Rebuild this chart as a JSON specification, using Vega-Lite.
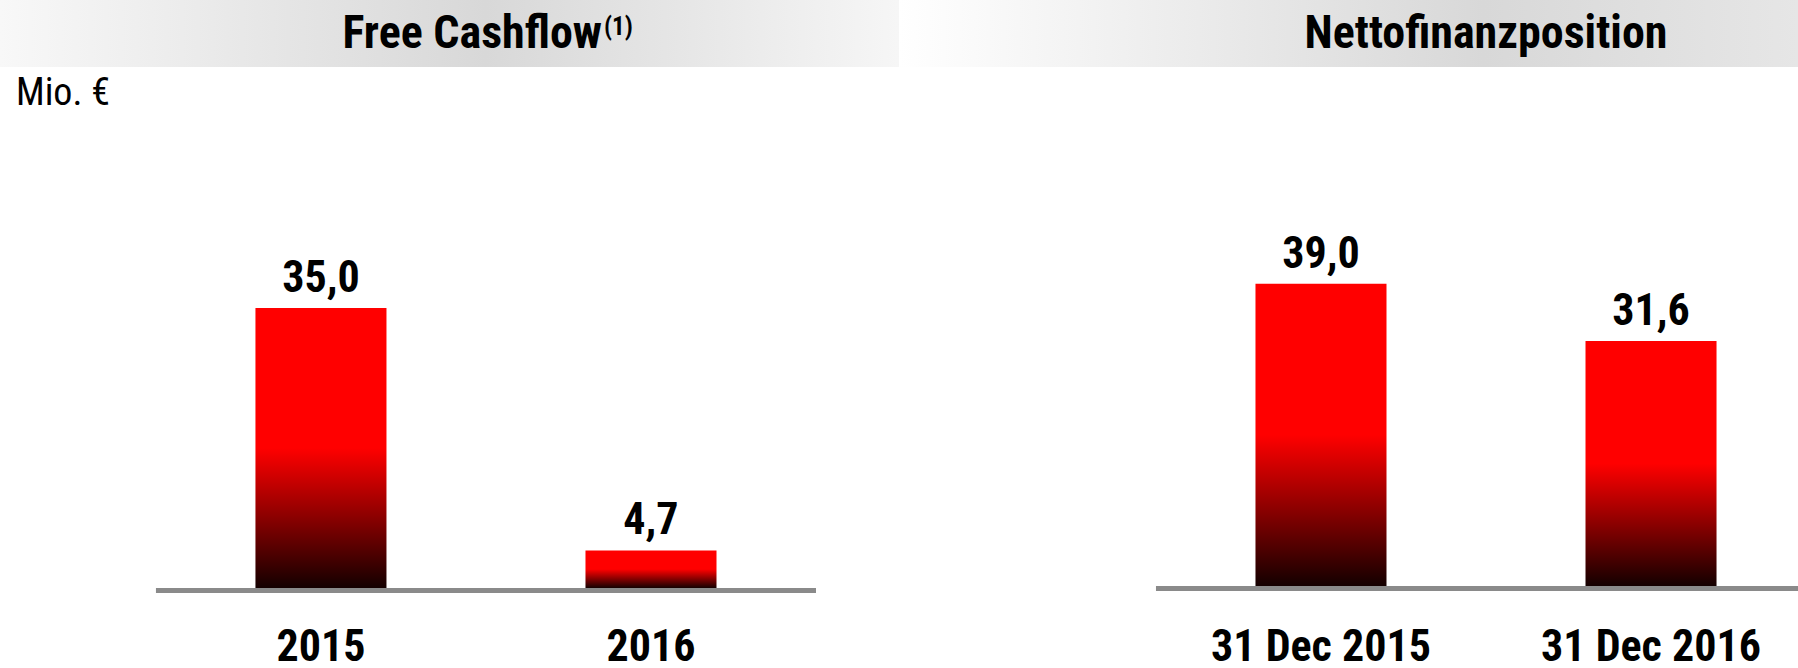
{
  "$schema": "https://vega.github.io/schema/vega-lite/v6.json",
  "padding": 0,
  "spacing": 0,
  "background": "white",
  "config": {
    "view": {"stroke": null},
    "locale": {"number": {"decimal": ",", "thousands": ".", "grouping": [3], "currency": ["", " €"]}},
    "text": {"font": "Roboto Condensed, Noto Sans Condensed, Lato, sans-serif", "color": "#000000"}
  },
  "datasets": {
    "rows": [
      {"panel": "Free Cashflow", "period": "2015", "value": 35.0},
      {"panel": "Free Cashflow", "period": "2016", "value": 4.7},
      {"panel": "Nettofinanzposition", "period": "31 Dec 2015", "value": 39.0},
      {"panel": "Nettofinanzposition", "period": "31 Dec 2016", "value": 31.6}
    ]
  },
  "hconcat": [
    {
      "width": 899,
      "height": 668,
      "layer": [
        {
          "data": {"values": [{"title": "Free Cashflow", "note": "(1)"}]},
          "mark": {"type": "rect", "color": {"gradient": "linear", "x1": 0, "y1": 0, "x2": 1, "y2": 0, "stops": [{"offset": 0, "color": "#f8f8f8"}, {"offset": 0.54, "color": "#d8d8d8"}, {"offset": 1, "color": "#f6f6f6"}]}},
          "encoding": {
            "y": {"datum": 73.5, "type": "quantitative", "scale": {"domain": [-10, 73.5], "nice": false, "zero": false}, "axis": null},
            "y2": {"datum": 65.125}
          }
        },
        {
          "data": {"values": [{"title": "Free Cashflow", "note": "(1)"}]},
          "mark": {"type": "text", "align": "right", "baseline": "alphabetic", "dx": 116, "fontSize": 46, "fontWeight": "bold"},
          "encoding": {
            "x": {"datum": "Free Cashflow", "type": "nominal", "scale": {"type": "band", "domain": ["l0", "2015", "Free Cashflow", "2016", "l4"], "paddingInner": 0.206, "paddingOuter": 0.327, "align": 0.838}, "axis": null},
            "y": {"datum": 67.5, "type": "quantitative", "scale": {"domain": [-10, 73.5], "nice": false, "zero": false}, "axis": null},
            "text": {"field": "title"}
          }
        },
        {
          "data": {"values": [{"title": "Free Cashflow", "note": "(1)"}]},
          "mark": {"type": "text", "align": "left", "baseline": "alphabetic", "dx": 118, "dy": -13, "fontSize": 25, "fontWeight": "bold"},
          "encoding": {
            "x": {"datum": "Free Cashflow", "type": "nominal", "scale": {"type": "band", "domain": ["l0", "2015", "Free Cashflow", "2016", "l4"], "paddingInner": 0.206, "paddingOuter": 0.327, "align": 0.838}, "axis": null},
            "y": {"datum": 67.5, "type": "quantitative", "scale": {"domain": [-10, 73.5], "nice": false, "zero": false}, "axis": null},
            "text": {"field": "note"}
          }
        },
        {
          "data": {"values": [{"unit": "Mio. €"}]},
          "mark": {"type": "text", "align": "left", "baseline": "alphabetic", "dx": -140, "fontSize": 38, "fontWeight": "normal"},
          "encoding": {
            "x": {"datum": "l0", "type": "nominal", "scale": {"type": "band", "domain": ["l0", "2015", "Free Cashflow", "2016", "l4"], "paddingInner": 0.206, "paddingOuter": 0.327, "align": 0.838}, "axis": null},
            "y": {"datum": 60.375, "type": "quantitative", "scale": {"domain": [-10, 73.5], "nice": false, "zero": false}, "axis": null},
            "text": {"field": "unit"}
          }
        },
        {
          "data": {"name": "rows"},
          "transform": [{"filter": "datum.panel === 'Free Cashflow'"}],
          "mark": {"type": "bar", "color": {"gradient": "linear", "x1": 0, "y1": 0, "x2": 0, "y2": 1, "stops": [{"offset": 0, "color": "#ff0000"}, {"offset": 0.5, "color": "#ff0000"}, {"offset": 1, "color": "#140000"}]}},
          "encoding": {
            "x": {"field": "period", "type": "nominal", "scale": {"type": "band", "domain": ["l0", "2015", "Free Cashflow", "2016", "l4"], "paddingInner": 0.206, "paddingOuter": 0.327, "align": 0.838}, "axis": null},
            "y": {"field": "value", "type": "quantitative", "scale": {"domain": [-10, 73.5], "nice": false, "zero": false}, "axis": null}
          }
        },
        {
          "data": {"values": [{"title": "Free Cashflow"}]},
          "mark": {"type": "rule", "color": "#8a8a8a", "strokeWidth": 5, "yOffset": 2.5},
          "encoding": {
            "x": {"datum": "l0", "type": "nominal", "scale": {"type": "band", "domain": ["l0", "2015", "Free Cashflow", "2016", "l4"], "paddingInner": 0.206, "paddingOuter": 0.327, "align": 0.838}, "axis": null},
            "x2": {"datum": "l4"},
            "y": {"datum": 0, "type": "quantitative", "scale": {"domain": [-10, 73.5], "nice": false, "zero": false}, "axis": null}
          }
        },
        {
          "data": {"name": "rows"},
          "transform": [{"filter": "datum.panel === 'Free Cashflow'"}],
          "mark": {"type": "text", "baseline": "alphabetic", "dy": -16, "fontSize": 44, "fontWeight": "bold"},
          "encoding": {
            "x": {"field": "period", "type": "nominal", "scale": {"type": "band", "domain": ["l0", "2015", "Free Cashflow", "2016", "l4"], "paddingInner": 0.206, "paddingOuter": 0.327, "align": 0.838}, "axis": null},
            "y": {"field": "value", "type": "quantitative", "scale": {"domain": [-10, 73.5], "nice": false, "zero": false}, "axis": null},
            "text": {"field": "value", "type": "quantitative", "format": ".1f"}
          }
        },
        {
          "data": {"name": "rows"},
          "transform": [{"filter": "datum.panel === 'Free Cashflow'"}],
          "mark": {"type": "text", "baseline": "alphabetic", "fontSize": 44, "fontWeight": "bold"},
          "encoding": {
            "x": {"field": "period", "type": "nominal", "scale": {"type": "band", "domain": ["l0", "2015", "Free Cashflow", "2016", "l4"], "paddingInner": 0.206, "paddingOuter": 0.327, "align": 0.838}, "axis": null},
            "y": {"datum": -9.125, "type": "quantitative", "scale": {"domain": [-10, 73.5], "nice": false, "zero": false}, "axis": null},
            "text": {"field": "period"}
          }
        }
      ]
    },
    {
      "width": 899,
      "height": 668,
      "layer": [
        {
          "data": {"values": [{"title": "Nettofinanzposition"}]},
          "mark": {"type": "rect", "color": {"gradient": "linear", "x1": 0, "y1": 0, "x2": 1, "y2": 0, "stops": [{"offset": 0, "color": "#ffffff"}, {"offset": 0.65, "color": "#d8d8d8"}, {"offset": 1, "color": "#e6e6e6"}]}},
          "encoding": {
            "y": {"datum": 75.61, "type": "quantitative", "scale": {"domain": [-10.58, 75.61], "nice": false, "zero": false}, "axis": null},
            "y2": {"datum": 66.97}
          }
        },
        {
          "data": {"values": [{"title": "Nettofinanzposition"}]},
          "mark": {"type": "text", "baseline": "alphabetic", "fontSize": 46, "fontWeight": "bold"},
          "encoding": {
            "x": {"datum": "Nettofinanzposition", "type": "nominal", "scale": {"type": "band", "domain": ["r0", "31 Dec 2015", "Nettofinanzposition", "31 Dec 2016"], "paddingInner": 0.206, "paddingOuter": 0.827, "align": 0.7015}, "axis": null},
            "y": {"datum": 69.42, "type": "quantitative", "scale": {"domain": [-10.58, 75.61], "nice": false, "zero": false}, "axis": null},
            "text": {"field": "title"}
          }
        },
        {
          "data": {"name": "rows"},
          "transform": [{"filter": "datum.panel === 'Nettofinanzposition'"}],
          "mark": {"type": "bar", "color": {"gradient": "linear", "x1": 0, "y1": 0, "x2": 0, "y2": 1, "stops": [{"offset": 0, "color": "#ff0000"}, {"offset": 0.5, "color": "#ff0000"}, {"offset": 1, "color": "#140000"}]}},
          "encoding": {
            "x": {"field": "period", "type": "nominal", "scale": {"type": "band", "domain": ["r0", "31 Dec 2015", "Nettofinanzposition", "31 Dec 2016"], "paddingInner": 0.206, "paddingOuter": 0.827, "align": 0.7015}, "axis": null},
            "y": {"field": "value", "type": "quantitative", "scale": {"domain": [-10.58, 75.61], "nice": false, "zero": false}, "axis": null}
          }
        },
        {
          "data": {"values": [{"title": "Nettofinanzposition"}]},
          "mark": {"type": "rule", "color": "#8a8a8a", "strokeWidth": 5, "yOffset": 2.5},
          "encoding": {
            "x": {"datum": "r0", "type": "nominal", "scale": {"type": "band", "domain": ["r0", "31 Dec 2015", "Nettofinanzposition", "31 Dec 2016"], "paddingInner": 0.206, "paddingOuter": 0.827, "align": 0.7015}, "axis": null},
            "x2": {"value": "width"},
            "y": {"datum": 0, "type": "quantitative", "scale": {"domain": [-10.58, 75.61], "nice": false, "zero": false}, "axis": null}
          }
        },
        {
          "data": {"name": "rows"},
          "transform": [{"filter": "datum.panel === 'Nettofinanzposition'"}],
          "mark": {"type": "text", "baseline": "alphabetic", "dy": -16, "fontSize": 44, "fontWeight": "bold"},
          "encoding": {
            "x": {"field": "period", "type": "nominal", "scale": {"type": "band", "domain": ["r0", "31 Dec 2015", "Nettofinanzposition", "31 Dec 2016"], "paddingInner": 0.206, "paddingOuter": 0.827, "align": 0.7015}, "axis": null},
            "y": {"field": "value", "type": "quantitative", "scale": {"domain": [-10.58, 75.61], "nice": false, "zero": false}, "axis": null},
            "text": {"field": "value", "type": "quantitative", "format": ".1f"}
          }
        },
        {
          "data": {"name": "rows"},
          "transform": [{"filter": "datum.panel === 'Nettofinanzposition'"}],
          "mark": {"type": "text", "baseline": "alphabetic", "fontSize": 44, "fontWeight": "bold"},
          "encoding": {
            "x": {"field": "period", "type": "nominal", "scale": {"type": "band", "domain": ["r0", "31 Dec 2015", "Nettofinanzposition", "31 Dec 2016"], "paddingInner": 0.206, "paddingOuter": 0.827, "align": 0.7015}, "axis": null},
            "y": {"datum": -9.68, "type": "quantitative", "scale": {"domain": [-10.58, 75.61], "nice": false, "zero": false}, "axis": null},
            "text": {"field": "period"}
          }
        }
      ]
    }
  ]
}
